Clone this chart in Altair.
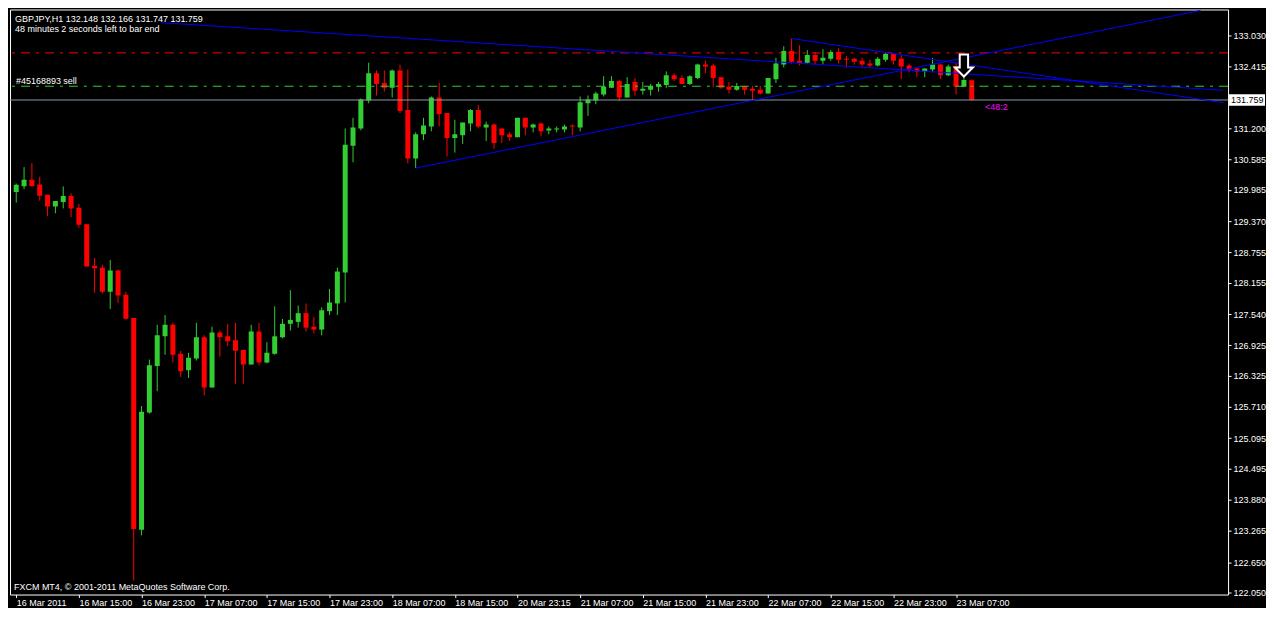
import json
import altair as alt
import pandas as pd

FONT = "Liberation Sans"

# ---- candle data (GBPJPY H1) ----
bar_index = list(range(123))
opens = [129.947, 130.060, 130.189, 130.093, 129.889, 129.660, 129.750, 129.865, 129.636, 129.312,
         128.492, 128.454, 127.978, 128.397, 127.920, 127.463, 123.289, 125.600, 126.516, 127.101,
         127.329, 126.757, 126.433, 126.662, 127.082, 126.091, 127.177, 127.101, 127.025, 126.834,
         126.548, 127.196, 126.586, 126.757, 127.082, 127.348, 127.386, 127.558, 127.291, 127.234,
         127.596, 127.749, 128.359, 130.856, 131.198, 131.751, 132.285, 132.094, 131.999, 132.342,
         131.561, 130.608, 131.084, 131.237, 131.809, 131.503, 131.008, 131.065, 131.294, 131.561,
         131.218, 131.275, 131.198, 131.084, 131.027, 131.408, 131.218, 131.294, 131.160, 131.179,
         131.179, 131.256, 131.218, 131.694, 131.751, 131.866, 131.999, 132.132, 131.809, 132.113,
         131.942, 131.961, 132.018, 132.056, 132.247, 132.190, 132.075, 132.190, 132.457, 132.437,
         132.209, 132.018, 131.961, 132.037, 131.980, 131.961, 131.885, 132.170, 132.457, 132.723,
         132.533, 132.495, 132.647, 132.533, 132.571, 132.704, 132.571, 132.571, 132.533, 132.476,
         132.437, 132.552, 132.666, 132.571, 132.437, 132.380, 132.323, 132.361, 132.457, 132.247,
         132.418, 132.018, 132.148]
highs = [130.112, 130.436, 130.512, 130.246, 129.889, 129.769, 130.055, 129.922, 129.712, 129.312,
         128.644, 128.511, 128.606, 128.416, 127.978, 127.463, 125.728, 126.643, 127.329, 127.520,
         127.367, 126.814, 126.776, 127.367, 127.120, 127.291, 127.215, 127.348, 127.367, 126.834,
         127.329, 127.367, 126.986, 127.691, 127.444, 128.011, 127.710, 127.749, 127.482, 127.672,
         128.035, 128.454, 131.198, 131.408, 131.789, 132.495, 132.342, 132.342, 132.361, 132.456,
         132.361, 131.122, 131.408, 131.828, 132.094, 131.503, 131.370, 131.313, 131.580, 131.656,
         131.332, 131.294, 131.198, 131.122, 131.408, 131.408, 131.294, 131.313, 131.237, 131.237,
         131.275, 131.275, 131.828, 131.847, 131.923, 132.228, 132.228, 132.151, 132.209, 132.190,
         132.113, 132.075, 132.113, 132.323, 132.285, 132.247, 132.247, 132.476, 132.533, 132.476,
         132.209, 132.113, 132.094, 132.037, 132.037, 132.037, 132.190, 132.590, 132.819, 132.971,
         132.838, 132.742, 132.704, 132.761, 132.742, 132.781, 132.628, 132.590, 132.590, 132.552,
         132.609, 132.685, 132.685, 132.647, 132.476, 132.399, 132.380, 132.590, 132.476, 132.457,
         132.495, 132.342, 132.166]
lows = [129.737, 130.003, 130.060, 129.775, 129.469, 129.527, 129.622, 129.450, 129.242, 128.479,
        127.959, 127.945, 127.640, 127.754, 127.431, 122.285, 123.180, 125.576, 126.020, 126.738,
        126.586, 126.300, 126.281, 126.624, 125.938, 126.091, 126.700, 126.910, 126.167, 126.167,
        126.548, 126.529, 126.567, 126.738, 127.063, 127.215, 127.272, 127.196, 127.158, 127.120,
        127.520, 127.520, 127.768, 130.531, 131.160, 131.694, 131.847, 131.923, 131.809, 131.503,
        130.512, 130.417, 130.970, 131.141, 131.237, 130.646, 130.722, 130.894, 131.141, 131.198,
        130.951, 130.799, 130.913, 130.951, 131.027, 131.065, 131.122, 131.046, 131.084, 131.122,
        131.122, 131.065, 131.141, 131.446, 131.675, 131.828, 131.999, 131.732, 131.809, 131.847,
        131.866, 131.847, 131.923, 131.999, 132.132, 132.075, 132.056, 132.170, 132.285, 132.018,
        131.980, 131.885, 131.942, 131.866, 131.751, 131.866, 131.885, 132.094, 132.399, 132.476,
        132.437, 132.476, 132.457, 132.457, 132.533, 132.476, 132.399, 132.457, 132.418, 132.399,
        132.418, 132.514, 132.457, 132.170, 132.304, 132.209, 132.209, 132.304, 132.170, 132.228,
        131.866, 132.018, 131.747]
closes = [130.087, 130.189, 130.060, 129.870, 129.660, 129.769, 129.865, 129.622, 129.298, 128.479,
          128.441, 127.978, 128.397, 127.907, 127.450, 123.302, 125.614, 126.529, 127.120, 127.329,
          126.738, 126.414, 126.681, 127.082, 126.091, 127.177, 127.082, 127.006, 126.815, 126.548,
          127.196, 126.586, 126.776, 127.101, 127.348, 127.425, 127.558, 127.272, 127.234, 127.615,
          127.768, 128.378, 130.875, 131.218, 131.770, 132.285, 132.075, 131.999, 132.342, 131.541,
          130.608, 131.084, 131.256, 131.809, 131.484, 131.008, 131.084, 131.313, 131.561, 131.237,
          131.275, 130.913, 131.065, 131.027, 131.408, 131.218, 131.275, 131.141, 131.198, 131.198,
          131.237, 131.237, 131.713, 131.770, 131.885, 132.018, 132.132, 131.809, 132.075, 131.942,
          131.980, 132.037, 132.075, 132.247, 132.170, 132.075, 132.228, 132.457, 132.418, 132.190,
          131.999, 131.961, 132.037, 131.961, 131.942, 131.885, 132.190, 132.476, 132.723, 132.514,
          132.495, 132.647, 132.533, 132.590, 132.704, 132.552, 132.552, 132.514, 132.457, 132.437,
          132.571, 132.666, 132.533, 132.418, 132.361, 132.323, 132.380, 132.457, 132.247, 132.418,
          132.018, 132.151, 131.759]

x_tick_index = [0, 8, 16, 24, 32, 40, 48, 56, 64, 72, 80, 88, 96, 104, 112, 120]
x_tick_labels = ["16 Mar 2011", "16 Mar 15:00", "16 Mar 23:00", "17 Mar 07:00", "17 Mar 15:00",
                 "17 Mar 23:00", "18 Mar 07:00", "18 Mar 15:00", "20 Mar 23:15", "21 Mar 07:00",
                 "21 Mar 15:00", "21 Mar 23:00", "22 Mar 07:00", "22 Mar 15:00", "22 Mar 23:00",
                 "23 Mar 07:00"]
y_tick_values = [133.030, 132.415, 131.200, 130.585, 129.985, 129.370, 128.755, 128.155, 127.540,
                 126.925, 126.325, 125.710, 125.095, 124.495, 123.880, 123.265, 122.650, 122.050]

stop_price = 132.687
order_price = 132.030
bid_price = 131.759

# trend lines: (bar, price) -> (bar, price)
trend_x1 = [18.55, 51.0, 99.0]
trend_p1 = [133.282, 130.417, 132.971]
trend_x2 = [154.09, 151.2, 154.09]
trend_p2 = [131.951, 133.524, 131.707]

arrow_bar = [121]
arrow_price = [132.437]

header_text = "GBPJPY,H1  132.148 132.166 131.747 131.759"
timer_text = "48 minutes 2 seconds left to bar end"
order_text = "#45168893 sell"
copyright_text = "FXCM MT4, \u00a9 2001-2011 MetaQuotes Software Corp."
countdown_text = "<48:2"
countdown_bar = 123.7

# ---- layout ----
W, H = 1220, 586
x_scale = alt.Scale(domain=[-0.16, 154.09], nice=False, zero=False)
y_scale = alt.Scale(domain=[122.012, 133.543], nice=False, zero=False)

GREEN = "#32cd32"
RED = "#ff0000"

df = pd.DataFrame({"i": bar_index, "o": opens, "h": highs, "l": lows, "c": closes})
df["dir"] = ["up" if c >= o else "down" for o, c in zip(opens, closes)]
color = alt.Color("dir:N", scale=alt.Scale(domain=["up", "down"], range=[GREEN, RED]), legend=None)

label_expr = json.dumps(x_tick_labels) + "[round(datum.value / 8)]"
x_axis = alt.Axis(values=x_tick_index, labelExpr=label_expr, labelAlign="left", labelBaseline="top",
                  labelPadding=1, labelColor="white", labelFont=FONT, labelFontSize=9,
                  tickColor="white", tickSize=3, domain=False, grid=False, title=None,
                  labelOverlap=False, labelFlush=False)
y_axis = alt.Axis(orient="right", values=y_tick_values, format=".3f", labelColor="white",
                  labelFont=FONT, labelFontSize=9, tickColor="white", tickSize=3, labelPadding=2,
                  domain=False, grid=False, title=None, labelOverlap=False, labelFlush=False)


def X(field):
    return alt.X(field, scale=x_scale, axis=x_axis)


def Y(field):
    return alt.Y(field, scale=y_scale, axis=y_axis)


base = alt.Chart(df)

wicks = base.mark_rule(strokeWidth=1, clip=True).encode(
    x=X("i:Q"), y=Y("l:Q"), y2="h:Q", color=color,
)
bodies = base.mark_bar(size=5, clip=True).encode(
    x=X("i:Q"), y=Y("o:Q"), y2="c:Q", color=color,
)

stop_line = alt.Chart(pd.DataFrame({"p": [stop_price]})).mark_rule(
    strokeWidth=1, strokeDash=[9, 6, 3, 6], color=RED
).encode(y=Y("p:Q"))
order_line = alt.Chart(pd.DataFrame({"p": [order_price]})).mark_rule(
    strokeWidth=1, strokeDash=[9, 6, 3, 6], color=GREEN
).encode(y=Y("p:Q"))
bid_line = alt.Chart(pd.DataFrame({"p": [bid_price]})).mark_rule(strokeWidth=1, color="#8a99a8").encode(
    y=Y("p:Q")
)

trend_df = pd.DataFrame({"x1": trend_x1, "p1": trend_p1, "x2": trend_x2, "p2": trend_p2})
trends = alt.Chart(trend_df).mark_rule(strokeWidth=1, color="#0000ff", clip=True).encode(
    x=X("x1:Q"), y=Y("p1:Q"), x2="x2:Q", y2="p2:Q",
)

arrow_shape = "M-0.38,-1 L0.38,-1 L0.38,0.17 L0.82,0.17 L0,1 L-0.82,0.17 L-0.38,0.17 Z"
arrow = alt.Chart(pd.DataFrame({"i": arrow_bar, "p": arrow_price})).mark_point(
    shape=arrow_shape, size=484, filled=True, fill="black", stroke="white", strokeWidth=2, opacity=1
).encode(x=X("i:Q"), y=Y("p:Q"))

countdown = alt.Chart(pd.DataFrame({"i": [countdown_bar], "p": [bid_price], "t": [countdown_text]})).mark_text(
    align="left", baseline="top", dy=3, color="#ff00ff", font=FONT, fontSize=9
).encode(x=X("i:Q"), y=Y("p:Q"), text="t:N")

order_label = alt.Chart(pd.DataFrame({"p": [order_price], "t": [order_text]})).mark_text(
    align="left", baseline="alphabetic", dy=-2, color="white", font=FONT, fontSize=9
).encode(x=alt.value(6), y=Y("p:Q"), text="t:N")


def fixed_text(txt, x, y):
    return alt.Chart(pd.DataFrame({"t": [txt]})).mark_text(
        align="left", baseline="alphabetic", color="white", font=FONT, fontSize=9
    ).encode(x=alt.value(x), y=alt.value(y), text="t:N")


header = fixed_text(header_text, 5, 13)
timer = fixed_text(timer_text, 5, 23)
copyright_ = fixed_text(copyright_text, 4, H - 5)

bid_box = alt.Chart(pd.DataFrame({"p": [bid_price]})).mark_point(
    shape="M-1,-0.32 L1,-0.32 L1,0.32 L-1,0.32 Z", size=1296, filled=True, fill="white",
    strokeWidth=0, opacity=1, clip=False
).encode(x=alt.value(W + 19), y=Y("p:Q"))
bid_text = alt.Chart(pd.DataFrame({"p": [bid_price], "t": ["131.759"]})).mark_text(
    align="left", baseline="middle", color="black", font=FONT, fontSize=9
).encode(x=alt.value(W + 3), y=Y("p:Q"), text="t:N")

chart = alt.layer(
    wicks, bodies, stop_line, order_line, bid_line, trends, arrow, countdown, order_label,
    header, timer, copyright_, bid_box, bid_text
).properties(
    width=W, height=H, background="black", padding={"left": 1, "top": 1, "right": 0, "bottom": 0}
).configure_view(
    stroke="white", strokeWidth=1
)

chart.save("out.html", embed_options={"renderer": "svg", "actions": False})
